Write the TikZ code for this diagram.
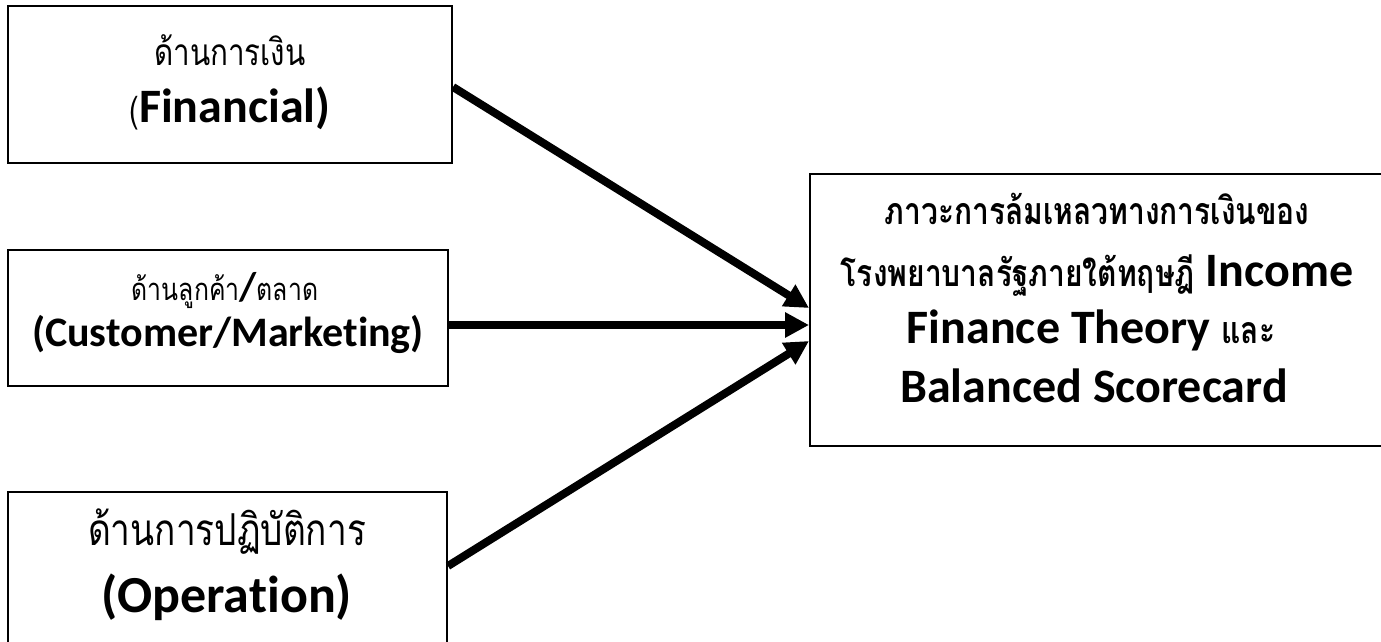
\documentclass[tikz,border=0pt]{standalone}
\usepackage{fontspec}
\setmainfont{Carlito}[Ligatures=NoCommon]
\newfontfamily\thai[Script=Thai, FakeStretch=0.8]{Loma}
\usetikzlibrary{arrows.meta}
\begin{document}
\begin{tikzpicture}[x=1pt,y=-1pt,
  box/.style={draw=black, line width=2pt, inner sep=0pt},
  lbl/.style={inner sep=0pt, text=black},
  rl/.style={lbl, anchor=base, font=\bfseries\fontsize{48}{56}\selectfont},
  arr/.style={line width=8pt, -{Triangle[length=24pt,width=24pt]}}]
\useasboundingbox (0,0) rectangle (1381,641);
\clip (0,0) rectangle (1381,641);
% boxes
\node[box, minimum width=444pt, minimum height=157pt] (fin) at (230,84.5) {};
\node[box, minimum width=440pt, minimum height=136pt] (cus) at (228,318) {};
\node[box, minimum width=439pt, minimum height=170pt] (ope) at (227.5,577) {};
\node[box, minimum width=610pt, minimum height=272pt] (res) at (1115,310) {};
% texts
\node[lbl, font=\thai\fontsize{37}{42}\selectfont] (finT) at (230,50) {ด้านการเงิน};
\node[lbl, anchor=base, font=\bfseries\fontsize{48}{52}\selectfont] (finE) at (230,122) {{\thai\mdseries\fontsize{36}{40}\selectfont(}Financial)};
\node[lbl, font=\thai\fontsize{31}{38}\selectfont] (cusT) at (225,290) {ด้านลูกค้า{\rmfamily\bfseries\fontsize{40}{44}\selectfont/}ตลาด};
\node[lbl, anchor=base, font=\bfseries\fontsize{42}{48}\selectfont] (cusE) at (228,346) {(Customer/Marketing)};
\node[lbl, font=\thai\fontsize{44}{50}\selectfont] (opeT) at (227,532) {ด้านการปฏิบัติการ};
\node[lbl, anchor=base, font=\bfseries\fontsize{52}{58}\selectfont] (opeE) at (227,612) {(Operation)};
\node[rl] (r1) at (1097,224) {{\thai\bfseries\fontsize{37.5}{42}\selectfont ภาวะการล้มเหลวทางการเงินของ}};
\node[rl] (r2) at (1097,286) {{\thai\bfseries\fontsize{37.5}{42}\selectfont โรงพยาบาลรัฐภายใต้ทฤษฎี} Income};
\node[rl] (r3) at (1091,343) {Finance Theory {\thai\bfseries\fontsize{37.5}{42}\selectfont และ}};
\node[rl] (r4) at (1094,402) {Balanced Scorecard};
% connectors
\draw[arr] ([yshift=-2.5pt]fin.east) -- ([yshift=2pt]res.west);
\draw[arr] ([yshift=-7pt]cus.east) -- ([yshift=-15pt]res.west);
\draw[arr] ([yshift=11pt]ope.east) -- ([yshift=-31pt]res.west);
\end{tikzpicture}
\end{document}
